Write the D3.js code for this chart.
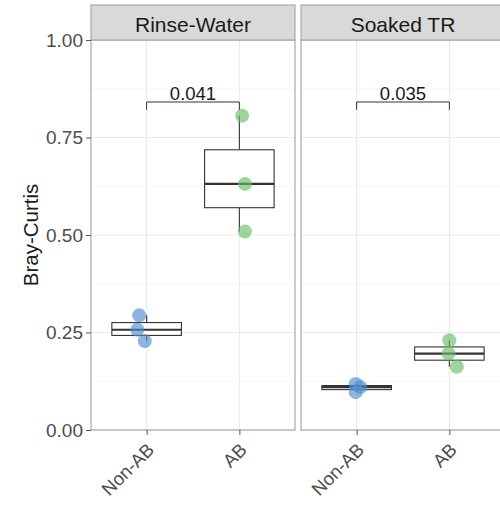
<!DOCTYPE html>
<html><head><meta charset="utf-8">
<script src="https://cdn.jsdelivr.net/npm/d3@7"></script>
<style>body{margin:0;background:#fff}svg{display:block}</style>
</head><body>
<script>
// ---- data ----
const panels = ["Rinse-Water", "Soaked TR"];
const groups = ["Non-AB", "AB"];
const rinseNonAB = [0.294, 0.257, 0.228];
const rinseAB = [0.806, 0.631, 0.509];
const soakedNonAB = [0.118, 0.110, 0.097];
const soakedAB = [0.230, 0.196, 0.162];
// horizontal jitter offsets (in category-step units)
const jitterRinseNonAB = [-0.08, -0.10, -0.02];
const jitterRinseAB = [0.03, 0.06, 0.06];
const jitterSoakedNonAB = [-0.01, 0.04, -0.01];
const jitterSoakedAB = [0.00, -0.01, 0.08];
const pValues = ["0.041", "0.035"];
const bracketLevel = 0.841;
const yTicks = [0, 0.25, 0.5, 0.75, 1];
const yMinor = [0.125, 0.375, 0.625, 0.875];
const yLabel = "Bray-Curtis";

const series = {
  "Rinse-Water": {"Non-AB": {v: rinseNonAB, j: jitterRinseNonAB}, "AB": {v: rinseAB, j: jitterRinseAB}},
  "Soaked TR": {"Non-AB": {v: soakedNonAB, j: jitterSoakedNonAB}, "AB": {v: soakedAB, j: jitterSoakedAB}}
};
const colors = {"Non-AB": "#4f8fd0", "AB": "#6cbf68"};

// ---- layout ----
const W = 500, H = 505;
const svg = d3.select("body").append("svg").attr("width", W).attr("height", H)
  .style("font-family", "'Liberation Sans', Arial, sans-serif");

const panelX = d3.scaleBand().domain(panels).range([91, 505]).paddingInner(6 / 210).paddingOuter(0);
const y = d3.scaleLinear().domain([0, 1]).range([430, 40]);
const stripTop = 5;
const border = "#a9a9a9";

panels.forEach((p, pi) => {
  const x0 = panelX(p), bw = panelX.bandwidth();
  const x = d3.scalePoint().domain(groups).range([x0, x0 + bw]).padding(0.6);
  const step = x.step();
  const g = svg.append("g");

  // panel background + grid
  g.append("rect").attr("x", x0).attr("y", y(1)).attr("width", bw).attr("height", y(0) - y(1)).attr("fill", "#fff");
  g.selectAll(".minor").data(yMinor).join("line")
    .attr("x1", x0).attr("x2", x0 + bw).attr("y1", d => y(d)).attr("y2", d => y(d))
    .attr("stroke", "#f4f4f4").attr("stroke-width", 0.8);
  g.selectAll(".major").data(yTicks).join("line")
    .attr("x1", x0).attr("x2", x0 + bw).attr("y1", d => y(d)).attr("y2", d => y(d))
    .attr("stroke", "#ebebeb").attr("stroke-width", 1.2);
  g.selectAll(".vgrid").data(groups).join("line")
    .attr("x1", d => x(d)).attr("x2", d => x(d)).attr("y1", y(1)).attr("y2", y(0))
    .attr("stroke", "#ebebeb").attr("stroke-width", 1.2);

  // boxplots
  groups.forEach(gr => {
    const vals = series[p][gr].v.slice().sort(d3.ascending);
    const q1 = d3.quantile(vals, 0.25), med = d3.quantile(vals, 0.5), q3 = d3.quantile(vals, 0.75);
    const lo = d3.min(vals), hi = d3.max(vals);
    const cx = x(gr), half = step * 0.375;
    g.append("line").attr("x1", cx).attr("x2", cx).attr("y1", y(q3)).attr("y2", y(hi)).attr("stroke", "#333").attr("stroke-width", 1.1);
    g.append("line").attr("x1", cx).attr("x2", cx).attr("y1", y(q1)).attr("y2", y(lo)).attr("stroke", "#333").attr("stroke-width", 1.1);
    g.append("rect").attr("x", cx - half).attr("width", half * 2).attr("y", y(q3)).attr("height", y(q1) - y(q3))
      .attr("fill", "#fff").attr("stroke", "#333").attr("stroke-width", 1.1);
    g.append("line").attr("x1", cx - half).attr("x2", cx + half).attr("y1", y(med)).attr("y2", y(med))
      .attr("stroke", "#333").attr("stroke-width", 2.2);
  });

  // points
  groups.forEach(gr => {
    const s = series[p][gr];
    g.selectAll(null).data(s.v).join("circle")
      .attr("cx", (d, i) => x(gr) + s.j[i] * step).attr("cy", d => y(d)).attr("r", 7)
      .attr("fill", colors[gr]).attr("fill-opacity", 0.65);
  });

  // significance bracket
  const by = y(bracketLevel), tick = y(bracketLevel - 0.02);
  g.append("path")
    .attr("d", `M${x(groups[0])},${tick}V${by}H${x(groups[1])}V${tick}`)
    .attr("fill", "none").attr("stroke", "#333").attr("stroke-width", 1);
  g.append("text").attr("x", (x(groups[0]) + x(groups[1])) / 2).attr("y", by - 2)
    .attr("text-anchor", "middle").attr("font-size", 18.5).attr("fill", "#1a1a1a").text(pValues[pi]);

  // panel border
  g.append("rect").attr("x", x0).attr("y", y(1)).attr("width", bw).attr("height", y(0) - y(1))
    .attr("fill", "none").attr("stroke", border).attr("stroke-width", 1.2);

  // strip
  g.append("rect").attr("x", x0).attr("y", stripTop).attr("width", bw).attr("height", y(1) - stripTop)
    .attr("fill", "#d9d9d9").attr("stroke", border).attr("stroke-width", 1.2);
  g.append("text").attr("x", x0 + bw / 2).attr("y", 31.5)
    .attr("text-anchor", "middle").attr("font-size", 21).attr("fill", "#1a1a1a").text(p);

  // x axis
  const xa = svg.append("g").attr("transform", `translate(0,${y(0)})`)
    .call(d3.axisBottom(x).tickSize(5).tickSizeOuter(0));
  xa.select(".domain").remove();
  xa.selectAll(".tick line").attr("stroke", "#555");
  xa.selectAll(".tick text").attr("font-size", 18.5).attr("fill", "#4d4d4d")
    .attr("text-anchor", "end").attr("dy", 0).attr("y", 0)
    .attr("transform", "translate(8,21) rotate(-45)");
});

// y axis
const ya = svg.append("g").attr("transform", `translate(${panelX(panels[0])},0)`)
  .call(d3.axisLeft(y).tickValues(yTicks).tickFormat(d3.format(".2f")).tickSize(5).tickSizeOuter(0));
ya.select(".domain").remove();
ya.selectAll(".tick line").attr("stroke", "#555");
ya.selectAll(".tick text").attr("font-size", 19).attr("fill", "#4d4d4d").attr("x", -8).attr("dy", "0.34em");

svg.append("text").attr("transform", `translate(38,${(y(0) + y(1)) / 2}) rotate(-90)`)
  .attr("text-anchor", "middle").attr("font-size", 20.5).attr("fill", "#1a1a1a").text(yLabel);
</script>
</body></html>
